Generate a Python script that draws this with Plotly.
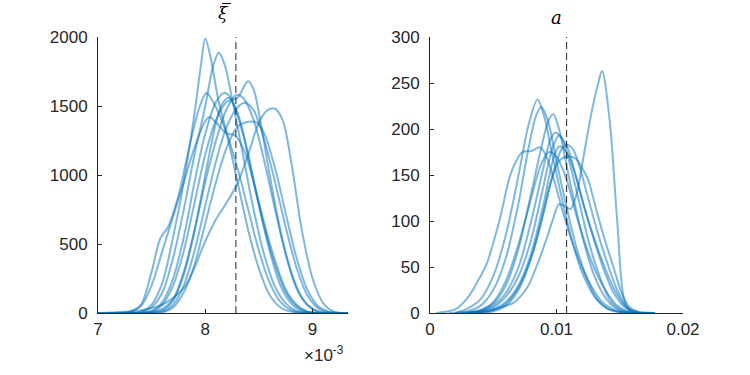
import plotly.graph_objects as go

# ---------------- data ----------------
# Left panel: xi-bar densities, x in units of 1e-3
xi_x = [
    [7.0, 7.4, 7.5, 7.6, 7.7, 7.8, 7.9, 7.96, 8.0, 8.05, 8.12, 8.2, 8.3, 8.4, 8.5, 8.6, 8.7, 8.8, 9.0, 9.2],
    [7.1, 7.4, 7.5, 7.6, 7.7, 7.8, 7.9, 8.0, 8.07, 8.125, 8.18, 8.25, 8.35, 8.45, 8.55, 8.65, 8.75, 8.85, 9.0, 9.25],
    [7.2, 7.5, 7.6, 7.7, 7.8, 7.9, 8.0, 8.1, 8.2, 8.3, 8.36, 8.4, 8.45, 8.5, 8.6, 8.7, 8.8, 8.9, 9.0, 9.1, 9.33],
    [7.0, 7.3, 7.4, 7.5, 7.58, 7.65, 7.75, 7.85, 7.95, 8.01, 8.08, 8.2, 8.3, 8.4, 8.5, 8.6, 8.7, 8.8, 8.9, 9.15],
    [7.1, 7.5, 7.6, 7.7, 7.8, 7.9, 8.0, 8.1, 8.18, 8.25, 8.35, 8.45, 8.55, 8.65, 8.75, 8.85, 8.95, 9.25],
    [7.2, 7.5, 7.6, 7.7, 7.8, 7.9, 8.0, 8.1, 8.2, 8.29, 8.35, 8.45, 8.55, 8.65, 8.75, 8.85, 8.95, 9.05, 9.3],
    [7.3, 7.6, 7.7, 7.8, 7.9, 8.0, 8.1, 8.2, 8.3, 8.37, 8.45, 8.55, 8.65, 8.75, 8.85, 8.95, 9.05, 9.15, 9.33],
    [7.0, 7.4, 7.6, 7.8, 7.9, 8.0, 8.1, 8.2, 8.3, 8.4, 8.5, 8.58, 8.65, 8.72, 8.8, 8.9, 9.0, 9.1, 9.2, 9.33],
    [7.0, 7.3, 7.4, 7.5, 7.6, 7.7, 7.8, 7.9, 8.0, 8.04, 8.1, 8.2, 8.27, 8.35, 8.45, 8.55, 8.65, 8.75, 8.85, 8.95, 9.2],
    [7.2, 7.6, 7.7, 7.8, 7.9, 8.0, 8.1, 8.2, 8.3, 8.4, 8.48, 8.55, 8.65, 8.75, 8.85, 8.95, 9.05, 9.15, 9.33],
    [7.1, 7.6, 7.7, 7.8, 7.9, 8.0, 8.1, 8.16, 8.22, 8.3, 8.4, 8.5, 8.6, 8.7, 8.8, 8.9, 9.2],
]
xi_y = [
    [0, 10, 60, 220, 550, 950, 1450, 1800, 1990, 1850, 1550, 1300, 950, 600, 320, 130, 40, 10, 0, 0],
    [0, 5, 40, 150, 400, 750, 1150, 1500, 1780, 1886, 1800, 1550, 1150, 750, 420, 190, 70, 15, 0, 0],
    [0, 10, 60, 200, 450, 800, 1150, 1400, 1530, 1560, 1640, 1680, 1620, 1450, 1000, 600, 300, 110, 30, 5, 0],
    [0, 10, 60, 300, 540, 620, 850, 1200, 1500, 1594, 1520, 1300, 1050, 750, 450, 220, 80, 20, 0, 0],
    [0, 15, 80, 250, 550, 950, 1300, 1530, 1596, 1540, 1300, 950, 620, 350, 150, 50, 10, 0],
    [0, 5, 30, 100, 300, 600, 950, 1250, 1480, 1580, 1560, 1400, 1100, 750, 420, 180, 60, 10, 0],
    [0, 10, 60, 200, 450, 780, 1100, 1350, 1490, 1524, 1470, 1250, 950, 620, 330, 130, 35, 5, 0],
    [0, 20, 60, 180, 330, 520, 680, 800, 940, 1150, 1380, 1470, 1480, 1400, 1100, 600, 250, 70, 10, 0],
    [0, 10, 50, 200, 450, 700, 950, 1200, 1390, 1420, 1380, 1300, 1290, 1200, 950, 650, 380, 170, 60, 10, 0],
    [0, 5, 40, 150, 350, 650, 950, 1200, 1350, 1386, 1380, 1300, 1050, 720, 400, 170, 50, 10, 0],
    [0, 20, 90, 280, 600, 1000, 1380, 1520, 1560, 1450, 1150, 780, 450, 200, 70, 15, 0],
]
xi_ref = 8.285  # dashed reference line (x 1e-3)

# Right panel: a densities
a_x = [
    [0.0025, 0.004, 0.005, 0.006, 0.0066, 0.0077, 0.0084, 0.0092, 0.0097, 0.0102, 0.0107, 0.0111, 0.0116, 0.0122, 0.0128, 0.0133, 0.0136, 0.0142, 0.0148, 0.0154, 0.016, 0.0172],
    [0.002, 0.003, 0.004, 0.005, 0.006, 0.007, 0.0078, 0.0085, 0.009, 0.0097, 0.0105, 0.0112, 0.012, 0.013, 0.014, 0.015, 0.016, 0.017],
    [0.0015, 0.003, 0.004, 0.005, 0.006, 0.007, 0.0078, 0.0084, 0.0088, 0.0093, 0.010, 0.0108, 0.0116, 0.0124, 0.0132, 0.014, 0.015, 0.016, 0.0175],
    [0.003, 0.004, 0.005, 0.006, 0.007, 0.008, 0.0088, 0.0094, 0.00975, 0.0102, 0.0108, 0.0115, 0.0122, 0.013, 0.0138, 0.0146, 0.0155, 0.0165, 0.0178],
    [0.0025, 0.004, 0.005, 0.006, 0.007, 0.008, 0.009, 0.0095, 0.0099, 0.0104, 0.011, 0.0118, 0.0126, 0.0134, 0.0142, 0.015, 0.016, 0.0172],
    [0.003, 0.004, 0.005, 0.006, 0.007, 0.008, 0.009, 0.0097, 0.0102, 0.0108, 0.0115, 0.0123, 0.013, 0.0138, 0.0146, 0.0154, 0.0162, 0.0176],
    [0.0035, 0.005, 0.006, 0.007, 0.008, 0.009, 0.0098, 0.0104, 0.0108, 0.0113, 0.0118, 0.0125, 0.0132, 0.014, 0.0148, 0.0156, 0.0165, 0.0178],
    [0.0005, 0.001, 0.002, 0.003, 0.004, 0.0045, 0.0055, 0.0063, 0.0068, 0.0073, 0.008, 0.0087, 0.0092, 0.0098, 0.0105, 0.0113, 0.012, 0.0128, 0.0136, 0.0145, 0.0155, 0.0168],
    [0.003, 0.005, 0.006, 0.007, 0.008, 0.0088, 0.0095, 0.0102, 0.0108, 0.0115, 0.012, 0.0125, 0.013, 0.0137, 0.0145, 0.0152, 0.0158, 0.0165, 0.0178],
    [0.002, 0.004, 0.005, 0.006, 0.007, 0.008, 0.0088, 0.0094, 0.01, 0.0108, 0.0116, 0.0124, 0.0132, 0.014, 0.0148, 0.0158, 0.0172],
    [0.003, 0.004, 0.005, 0.006, 0.007, 0.008, 0.009, 0.0097, 0.0102, 0.0108, 0.0115, 0.0122, 0.013, 0.0138, 0.0146, 0.0155, 0.0165, 0.0176],
]
a_y = [
    [0, 1, 4, 8, 11, 28, 50, 80, 101, 118, 116, 113, 130, 175, 220, 250, 263, 210, 100, 12, 0, 0],
    [0, 5, 15, 40, 85, 150, 205, 232, 215, 170, 120, 80, 45, 18, 5, 1, 0, 0],
    [0, 2, 8, 25, 60, 120, 180, 215, 224, 210, 165, 115, 70, 38, 15, 5, 1, 0, 0],
    [0, 3, 10, 30, 70, 130, 180, 210, 216, 200, 160, 115, 75, 40, 18, 6, 1, 0, 0],
    [0, 2, 8, 22, 50, 100, 160, 188, 196, 190, 165, 120, 75, 40, 15, 4, 0, 0],
    [0, 2, 6, 18, 40, 80, 140, 180, 193, 182, 150, 110, 80, 50, 25, 8, 1, 0],
    [0, 3, 10, 28, 60, 110, 155, 178, 183, 178, 160, 125, 90, 55, 25, 6, 1, 0],
    [0, 1, 4, 17, 40, 54, 101, 148, 165, 175, 176, 180, 170, 145, 110, 75, 50, 28, 12, 4, 0, 0],
    [0, 2, 8, 25, 60, 100, 140, 165, 170, 168, 158, 145, 120, 85, 50, 20, 6, 1, 0],
    [0, 3, 12, 35, 75, 125, 162, 175, 170, 145, 105, 70, 42, 22, 8, 1, 0],
    [0, 1, 4, 12, 30, 65, 120, 165, 181, 175, 150, 115, 78, 45, 20, 5, 0, 0],
]
a_ref = 0.0108

xi_xticks = [7, 8, 9]
xi_yticks = [0, 500, 1000, 1500, 2000]
a_xticks = [0, 0.01, 0.02]
a_xticktext = ["0", "0.01", "0.02"]
a_yticks = [0, 50, 100, 150, 200, 250, 300]

# ---------------- figure ----------------
W, H = 750, 375
LINE = "rgba(0,114,189,0.5)"
AX = "#262626"
FONT = dict(family="Liberation Sans, Arial, sans-serif", size=17, color=AX)

fig = go.Figure()
for xs, ys in zip(xi_x, xi_y):
    fig.add_trace(go.Scatter(x=xs, y=ys, mode="lines", xaxis="x", yaxis="y",
                             line=dict(color=LINE, width=2, shape="spline", smoothing=0.9),
                             showlegend=False, hoverinfo="skip"))
for xs, ys in zip(a_x, a_y):
    fig.add_trace(go.Scatter(x=xs, y=ys, mode="lines", xaxis="x2", yaxis="y2",
                             line=dict(color=LINE, width=2, shape="spline", smoothing=0.9),
                             showlegend=False, hoverinfo="skip"))

ydom = [62 / H, 338 / H]
common = dict(showline=True, linecolor=AX, linewidth=1, ticks="inside", ticklen=4,
              tickwidth=1, tickcolor=AX, showgrid=False, zeroline=False,
              tickfont=FONT, mirror=False, automargin=False)

xi_mid = (98 + 348) / 2 / W

fig.update_layout(
    template="none",
    width=W, height=H,
    margin=dict(l=0, r=0, t=0, b=0, autoexpand=False),
    paper_bgcolor="white", plot_bgcolor="white",
    xaxis=dict(domain=[98 / W, 348 / W], range=[7, 9.33], tickvals=xi_xticks,
               anchor="y", ticklabelstandoff=1, **common),
    yaxis=dict(domain=ydom, range=[0, 2000], tickvals=xi_yticks, anchor="x",
               ticklabelstandoff=6, **common),
    xaxis2=dict(domain=[430 / W, 683 / W], range=[0, 0.02], tickvals=a_xticks,
                ticktext=a_xticktext, anchor="y2", ticklabelstandoff=1, **common),
    yaxis2=dict(domain=ydom, range=[0, 300], tickvals=a_yticks, anchor="x2",
                ticklabelstandoff=6, **common),
    shapes=[
        dict(type="line", xref="x", yref="y domain", x0=xi_ref, x1=xi_ref, y0=0, y1=1,
             line=dict(color=AX, width=1, dash="7px,4px")),
        dict(type="line", xref="x2", yref="y2 domain", x0=a_ref, x1=a_ref, y0=0, y1=1,
             line=dict(color=AX, width=1, dash="7px,4px")),
        # macron (bar) over the xi in the left title
        dict(type="line", xref="paper", yref="paper", x0=222 / W, x1=231 / W,
             y0=1 - 3.5 / H, y1=1 - 3.5 / H, line=dict(color="black", width=1)),
    ],
    annotations=[
        dict(text="<i>ξ</i>", xref="paper", yref="paper", x=xi_mid, y=ydom[1],
             xanchor="center", yanchor="bottom", yshift=12, showarrow=False,
             font=dict(family="DejaVu Serif, serif", size=17, color="black")),
        dict(text="<i>a</i>", xref="paper", yref="paper", x=(430 + 683) / 2 / W, y=ydom[1],
             xanchor="center", yanchor="bottom", yshift=7, showarrow=False,
             font=dict(family="DejaVu Serif, serif", size=18, color="black")),
        dict(text="×10<sup>-3</sup>", xref="paper", yref="paper", x=346 / W, y=(H - 354) / H,
             xanchor="right", yanchor="middle", showarrow=False, font=FONT),
    ],
)

fig.write_html("out.html", config={"displayModeBar": False},
               post_script="document.body.style.margin='0px';")
